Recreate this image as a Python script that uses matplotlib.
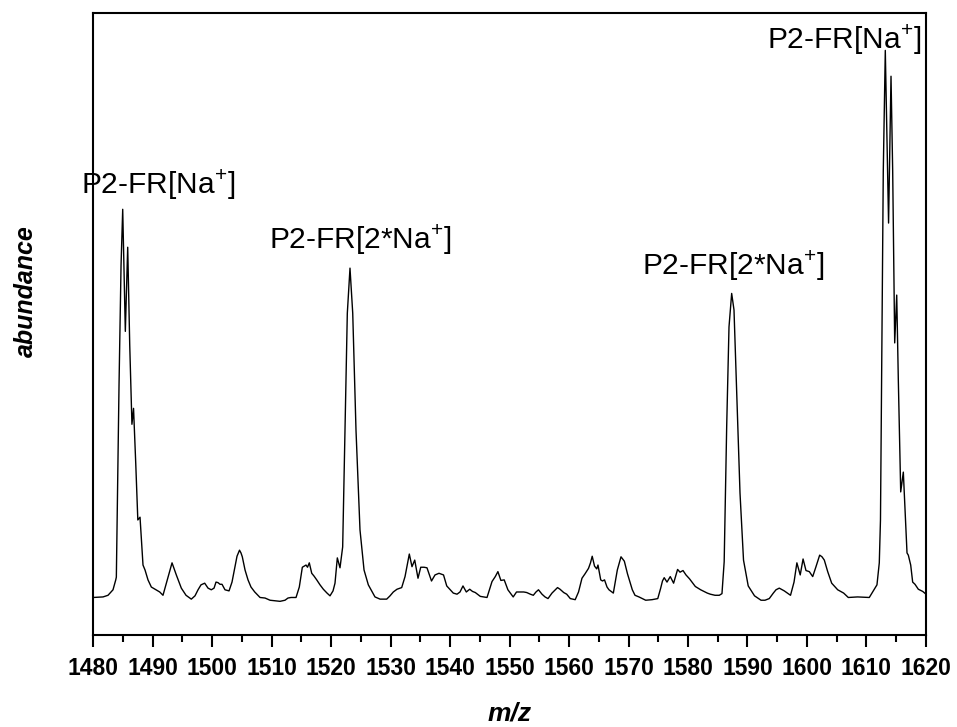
# -*- coding:utf-8 -*-
import numpy as np
import matplotlib
matplotlib.use('Agg')
import matplotlib.pyplot as plt
from matplotlib.ticker import MultipleLocator

plt.rcParams['font.family'] = ['Liberation Sans', 'DejaVu Sans']
plt.rcParams['mathtext.fontset'] = 'custom'
plt.rcParams['mathtext.rm'] = 'Liberation Sans'

# spectrum: m/z and relative abundance
mz = [1480.00, 1481.68, 1482.52, 1483.36, 1483.82, 1483.92, 1484.10, 1484.37, 1484.71, 1484.99,
      1485.43, 1485.83, 1486.17, 1486.54, 1486.81, 1487.18, 1487.53, 1487.90, 1488.15, 1488.40,
      1488.74, 1489.24, 1489.80, 1490.42, 1491.21, 1491.76, 1492.61, 1493.28, 1494.00, 1494.84,
      1495.63, 1496.52, 1497.14, 1497.65, 1498.15, 1498.77, 1499.33, 1499.88, 1500.34, 1500.67,
      1501.01, 1501.34, 1501.68, 1502.18, 1502.86, 1503.36, 1503.82, 1504.20, 1504.62, 1504.87,
      1505.09, 1505.55, 1506.05, 1506.55, 1507.18, 1508.07, 1508.91, 1509.75, 1510.59, 1511.43,
      1512.27, 1512.77, 1513.28, 1514.12, 1514.67, 1515.18, 1515.80, 1516.05, 1516.35, 1516.76,
      1517.14, 1517.60, 1518.15, 1518.71, 1519.33, 1519.83, 1520.34, 1520.67, 1521.06, 1521.51,
      1521.96, 1522.35, 1522.74, 1523.19, 1523.65, 1524.20, 1524.87, 1525.55, 1526.27, 1527.39,
      1528.24, 1529.36, 1529.92, 1530.47, 1531.09, 1531.88, 1532.44, 1533.16, 1533.61, 1534.07,
      1534.62, 1535.08, 1535.63, 1536.13, 1536.89, 1537.48, 1538.15, 1538.91, 1539.45, 1540.05,
      1540.55, 1541.18, 1541.68, 1542.18, 1542.74, 1543.31, 1543.78, 1544.25, 1545.09, 1546.22,
      1547.06, 1547.61, 1548.05, 1548.55, 1549.11, 1549.73, 1550.62, 1551.18, 1551.76, 1552.39,
      1552.89, 1553.50, 1554.00, 1554.45, 1554.87, 1555.46, 1555.97, 1556.47, 1557.14, 1558.07,
      1558.49, 1559.11, 1559.61, 1560.22, 1561.04, 1561.60, 1562.18, 1562.69, 1563.28, 1563.61,
      1563.90, 1564.29, 1564.66, 1564.87, 1565.33, 1565.63, 1565.97, 1566.39, 1566.72, 1567.45,
      1568.12, 1568.74, 1569.30, 1569.83, 1570.64, 1571.09, 1571.76, 1572.89, 1573.95, 1574.92,
      1575.41, 1575.71, 1576.00, 1576.47, 1577.02, 1577.58, 1578.25, 1578.66, 1579.16, 1579.66,
      1580.25, 1581.23, 1582.13, 1583.24, 1583.75, 1584.54, 1585.26, 1585.71, 1586.08, 1586.50,
      1586.89, 1587.34, 1587.73, 1588.18, 1588.74, 1589.33, 1590.12, 1591.18, 1592.27, 1592.94,
      1593.66, 1594.34, 1594.79, 1595.34, 1596.18, 1597.23, 1597.82, 1598.30, 1598.86, 1599.34,
      1599.83, 1600.39, 1600.96, 1601.51, 1602.13, 1602.52, 1602.91, 1603.48, 1604.15, 1605.16,
      1606.16, 1606.94, 1608.51, 1610.47, 1611.04, 1611.76, 1612.15, 1612.35, 1612.55, 1612.82,
      1613.16, 1613.48, 1613.71, 1614.12, 1614.40, 1614.74, 1615.08, 1615.35, 1615.75, 1616.19,
      1616.64, 1616.81, 1617.03, 1617.43, 1617.76, 1618.15, 1618.71, 1619.45, 1620.00]
abundance = [0.1, 0.2, 0.5, 1.5, 3.3, 3.8, 17.8, 38.7, 60.5, 70.7,
             48.5, 63.8, 46.0, 31.6, 34.5, 24.5, 14.2, 14.7, 10.5, 6.0,
             5.1, 3.3, 2.0, 1.6, 1.1, 0.5, 3.8, 6.4, 4.2, 1.8,
             0.5, -0.2, 0.4, 1.5, 2.4, 2.7, 1.8, 1.5, 1.8, 2.9,
             2.8, 2.5, 2.5, 1.5, 1.3, 2.9, 5.5, 7.6, 8.7, 8.2,
             7.5, 5.1, 3.3, 2.0, 1.1, 0.1, 0.0, -0.4, -0.5, -0.6,
             -0.4, 0.0, 0.1, 0.1, 2.0, 5.6, 6.0, 5.6, 6.4, 4.5,
             4.0, 3.3, 2.4, 1.6, 0.9, 0.4, 1.3, 2.7, 7.3, 5.5,
             9.3, 30.5, 51.8, 60.0, 51.8, 30.5, 12.4, 5.1, 2.4, 0.2,
             -0.2, -0.2, 0.4, 1.1, 1.6, 1.9, 3.9, 8.0, 5.7, 6.9,
             3.6, 5.6, 5.6, 5.5, 3.1, 4.2, 4.5, 4.2, 2.2, 1.5,
             0.9, 0.7, 1.1, 2.2, 1.1, 1.6, 1.2, 1.0, 0.3, 0.1,
             3.0, 3.9, 4.8, 3.2, 3.3, 1.5, 0.2, 1.1, 1.1, 1.1,
             1.0, 0.7, 0.5, 1.1, 1.5, 0.7, 0.2, -0.1, 0.9, 1.9,
             1.6, 1.0, 0.7, -0.1, -0.3, 1.1, 3.6, 4.4, 5.4, 6.4,
             7.6, 5.8, 5.3, 6.0, 3.3, 3.1, 3.3, 2.0, 1.5, 0.9,
             5.1, 7.5, 6.7, 4.4, 1.5, 0.5, 0.2, -0.4, -0.3, -0.1,
             1.8, 3.1, 3.7, 2.9, 3.9, 2.7, 5.2, 4.7, 5.0, 4.2,
             3.5, 2.1, 1.5, 0.9, 0.7, 0.5, 0.5, 0.8, 6.6, 31.1,
             49.3, 55.4, 52.4, 37.3, 19.1, 6.9, 2.2, 0.4, -0.4, -0.4,
             -0.1, 0.9, 1.5, 1.8, 1.3, 0.5, 2.9, 6.4, 4.2, 7.1,
             5.0, 4.8, 3.9, 5.7, 7.8, 7.5, 6.9, 4.8, 2.7, 1.5,
             0.9, 0.1, 0.2, 0.1, 1.1, 2.4, 6.4, 14.2, 41.3, 77.6,
             99.6, 81.5, 68.2, 94.9, 77.8, 46.4, 55.1, 39.6, 19.3, 22.9,
             12.0, 8.2, 7.8, 6.0, 2.9, 2.5, 1.6, 1.2, 0.7]

# peak labels
labels = ['P2-FR[Na$^{+}$]', 'P2-FR[2*Na$^{+}$]', 'P2-FR[2*Na$^{+}$]', 'P2-FR[Na$^{+}$]']
label_x = [1490.9, 1525.0, 1587.6, 1606.2]
label_y = [75.1, 65.1, 60.4, 101.5]

fig = plt.figure(figsize=(9.57, 7.27), dpi=100)
ax = fig.add_axes([0.0972, 0.1265, 0.8704, 0.8556])

ax.plot(mz, abundance, color='black', linewidth=1.0)

for t, x, y in zip(labels, label_x, label_y):
    ax.text(x, y, t, fontsize=21.5, ha='center', va='center')

ax.set_xlim(1480, 1620)
ax.set_ylim(-6.73, 106.4)
ax.xaxis.set_major_locator(MultipleLocator(10))
ax.xaxis.set_minor_locator(MultipleLocator(5))
ax.set_yticks([])
ax.tick_params(axis='x', which='major', direction='out', length=8.5, width=1.5, pad=7,
               labelsize=16.5)
ax.tick_params(axis='x', which='minor', direction='out', length=4.8, width=1.5)
for lab in ax.get_xticklabels():
    lab.set_fontweight('bold')
for s in ax.spines.values():
    s.set_linewidth(1.5)

ax.set_xlabel('m/z', fontsize=19, fontweight='bold', fontstyle='italic', labelpad=16)
ax.set_ylabel('abundance', fontsize=18, fontweight='bold', fontstyle='italic')
ax.yaxis.set_label_coords(-0.066, 0.553)

fig.savefig('out.png', dpi=100)
